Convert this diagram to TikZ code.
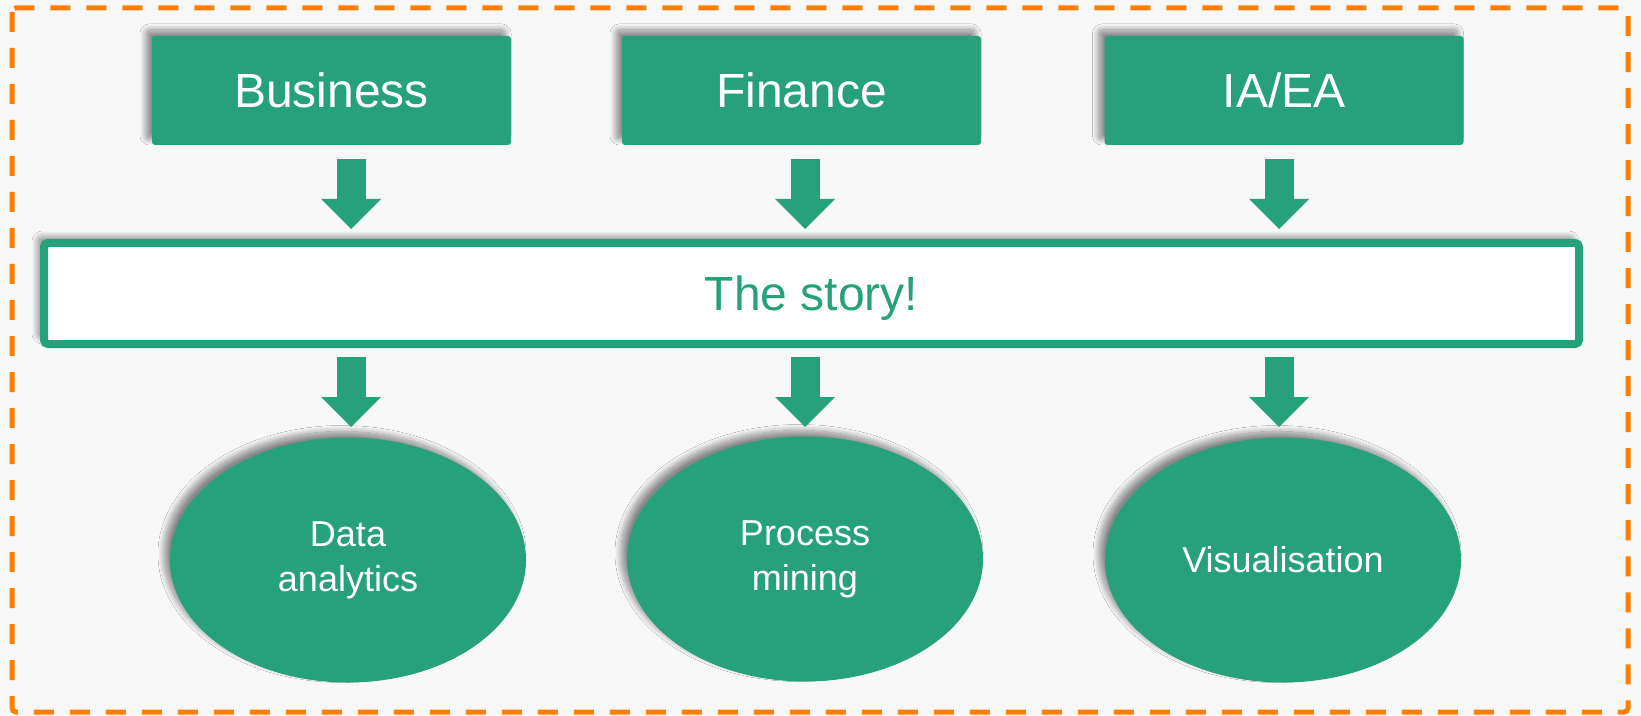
\documentclass[tikz,border=0pt]{standalone}
\usepackage{fontspec}
\setmainfont{Liberation Sans}
\usetikzlibrary{arrows.meta, shapes.geometric, shadows.blur}
\definecolor{storygreen}{RGB}{38,161,123}
\definecolor{frameorange}{RGB}{255,128,0}
\definecolor{paper}{RGB}{248,248,248}

\begin{document}
\begin{tikzpicture}[x=0.5pt, y=-0.5pt]
\tikzstyle{shade}=[blur shadow={shadow xshift=-3pt, shadow yshift=3pt, shadow blur radius=3pt, shadow blur steps=12, shadow opacity=45}]
\tikzstyle{box}=[rectangle, rounded corners=1.5pt, fill=storygreen, text=white, minimum width=179.5pt, minimum height=54.5pt, inner sep=0pt, text depth=0pt, font=\fontsize{24}{28}\selectfont, shade]
\tikzstyle{story}=[rectangle, rounded corners=2pt, draw=storygreen, line width=4pt, fill=white, text=storygreen, minimum width=767.5pt, minimum height=50.5pt, inner sep=0pt, text depth=0pt, font=\fontsize{24}{28}\selectfont, shade]
\tikzstyle{oval}=[ellipse, fill=storygreen, text=white, minimum width=178pt, minimum height=122.5pt, inner sep=0pt, align=center, font=\fontsize{18}{22.5}\selectfont, shade]
\tikzstyle{blockarrow}=[line width=14.5pt, draw=storygreen, -{Triangle[width=30pt, length=15pt, line width=0pt]}]
\useasboundingbox (0,0) rectangle (1641,716);
\fill[paper] (0,0) rectangle (1641,716);
\draw[frameorange, line width=2.5pt, dash pattern=on 10pt off 8pt, rounded corners=2pt] (12,8) rectangle (1628,712);
\node[box] (b1) at (331.5, 90.5) {Business};
\node[box] (b2) at (801.5, 90.5) {Finance};
\node[box] (b3) at (1284, 90.5) {IA/EA};
\node[story] (s) at (811.5, 293.5) {The story!};
\node[oval] (e1) at (348, 560) {Data\\analytics};
\node[oval] (e2) at (805, 559) {Process\\mining};
\node[oval] (e3) at (1283, 560) {Visualisation};
\coordinate (a1) at (351, 159);
\coordinate (t1) at (351, 229);
\coordinate (a2) at (805, 159);
\coordinate (t2) at (805, 229);
\coordinate (a3) at (1279, 159);
\coordinate (t3) at (1279, 229);
\coordinate (a4) at (351, 357);
\coordinate (t4) at (351, 427);
\coordinate (a5) at (805, 357);
\coordinate (t5) at (805, 427);
\coordinate (a6) at (1279, 357);
\coordinate (t6) at (1279, 427);
\path (a1) edge [blockarrow] (t1);
\path (a2) edge [blockarrow] (t2);
\path (a3) edge [blockarrow] (t3);
\path (a4) edge [blockarrow] (t4);
\path (a5) edge [blockarrow] (t5);
\path (a6) edge [blockarrow] (t6);
\end{tikzpicture}
\end{document}
